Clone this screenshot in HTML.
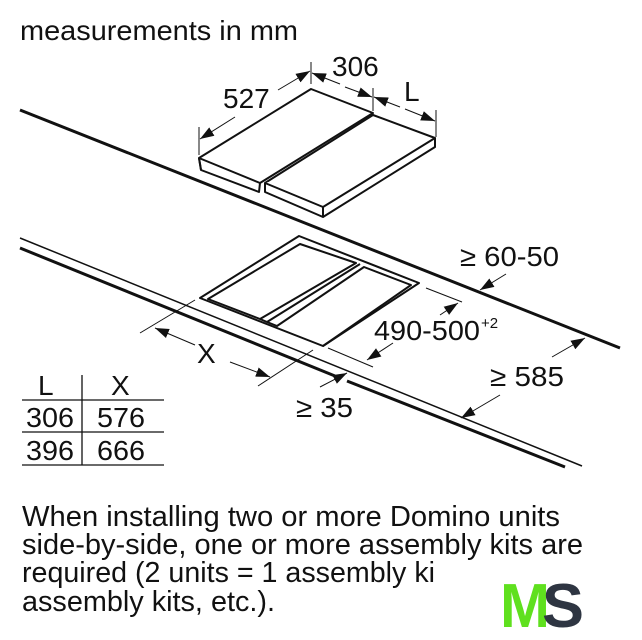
<!DOCTYPE html>
<html><head><meta charset="utf-8"><style>
html,body{margin:0;padding:0;background:#fff}
svg{display:block}
text{font-family:"Liberation Sans",Arial,sans-serif;fill:#111}
</style></head><body>
<svg width="642" height="640" viewBox="0 0 642 640" xmlns="http://www.w3.org/2000/svg">
<defs>
<marker id="b" viewBox="0 0 10 10" refX="10" refY="5" markerWidth="14" markerHeight="14" markerUnits="userSpaceOnUse" orient="auto"><path d="M0,1.5 L10,5 L0,8.5 Z" fill="#111"/></marker>
</defs>
<text x="20" y="40" font-size="28" textLength="278" lengthAdjust="spacingAndGlyphs">measurements in mm</text>

<line x1="20" y1="110" x2="620" y2="348" stroke="#111" stroke-width="3"/>
<line x1="20" y1="238" x2="582" y2="466" stroke="#111" stroke-width="1.5"/>
<line x1="20" y1="248" x2="335" y2="376" stroke="#111" stroke-width="3"/>
<line x1="347" y1="381" x2="565" y2="467" stroke="#111" stroke-width="3"/>

<g fill="#fff" stroke="#111" stroke-width="2" stroke-linejoin="round">
<path d="M199,158 L311,89 L373,113 L260,183 L259,192 L201,170 Z"/>
<path d="M199,158 L201,170 M260,183 L199,158"/>
<path d="M373,115 L435,138 L435,147 L323,217 L265,192 L265,183 Z"/>
<path d="M265,183 L323,207 L435,138 M323,207 L323,217"/>
</g>
<g stroke="#111" stroke-width="1">
<line x1="199" y1="127" x2="199" y2="155"/>
<line x1="311" y1="62" x2="311" y2="84"/>
<line x1="373" y1="88" x2="373" y2="111"/>
<line x1="436" y1="110" x2="436" y2="137"/>
<line x1="235" y1="117" x2="200" y2="139" marker-end="url(#b)"/>
<line x1="278" y1="90" x2="310" y2="71" marker-end="url(#b)"/>
<line x1="340" y1="84" x2="312" y2="73" marker-end="url(#b)"/>
<line x1="345" y1="87" x2="372" y2="97" marker-end="url(#b)"/>
<line x1="400" y1="107" x2="374" y2="97" marker-end="url(#b)"/>
<line x1="405" y1="109" x2="435" y2="121" marker-end="url(#b)"/>
</g>
<text x="223" y="108" font-size="28">527</text>
<text x="332" y="76" font-size="28">306</text>
<text x="404" y="101" font-size="28">L</text>

<g fill="none" stroke="#111" stroke-width="2" stroke-linejoin="round">
<path d="M200,298 L299,236 L419,283 L323,346 Z"/>
<path d="M208,299 L300,244 L356,263 L260,319 Z"/>
<path d="M260,319 L267,322 L360,264 M267,322 L277,326 L364,267 L411,285 L323,346"/>
</g>

<g stroke="#111" stroke-width="1">
<line x1="140" y1="333" x2="195" y2="300"/>
<line x1="258" y1="386" x2="313" y2="350"/>
<line x1="195" y1="345" x2="155" y2="328" marker-end="url(#b)"/>
<line x1="230" y1="362" x2="270" y2="377" marker-end="url(#b)"/>
<line x1="328" y1="348" x2="373" y2="367"/>
<line x1="426" y1="288" x2="462" y2="302"/>
<line x1="393" y1="343" x2="367" y2="360" marker-end="url(#b)"/>
<line x1="440" y1="315" x2="458" y2="303" marker-end="url(#b)"/>
<line x1="320" y1="387" x2="347" y2="373" marker-end="url(#b)"/>
<line x1="506" y1="274" x2="480" y2="290" marker-end="url(#b)"/>
<line x1="552" y1="357" x2="585" y2="338" marker-end="url(#b)"/>
<line x1="500" y1="395" x2="461" y2="418" marker-end="url(#b)"/>
</g>
<text x="197" y="363" font-size="28">X</text>
<text x="374" y="340" font-size="28" textLength="106" lengthAdjust="spacingAndGlyphs">490-500</text>
<text x="481" y="328" font-size="15">+2</text>
<text x="460" y="266" font-size="28" textLength="99" lengthAdjust="spacingAndGlyphs">≥ 60-50</text>
<text x="490" y="386" font-size="28" textLength="74" lengthAdjust="spacingAndGlyphs">≥ 585</text>
<text x="296" y="417" font-size="28" textLength="57" lengthAdjust="spacingAndGlyphs">≥ 35</text>

<g stroke="#111" stroke-width="1.3">
<line x1="82" y1="375" x2="82" y2="465"/>
<line x1="22" y1="400" x2="164" y2="400"/>
<line x1="22" y1="432" x2="164" y2="432"/>
<line x1="22" y1="465" x2="164" y2="465"/>
</g>
<text x="38" y="395" font-size="28">L</text>
<text x="111" y="395" font-size="28">X</text>
<text x="26" y="427" font-size="28" textLength="48" lengthAdjust="spacingAndGlyphs">306</text>
<text x="97" y="427" font-size="28" textLength="48" lengthAdjust="spacingAndGlyphs">576</text>
<text x="26" y="460" font-size="28" textLength="48" lengthAdjust="spacingAndGlyphs">396</text>
<text x="97" y="460" font-size="28" textLength="48" lengthAdjust="spacingAndGlyphs">666</text>

<text x="22" y="526" font-size="29" textLength="538" lengthAdjust="spacingAndGlyphs">When installing two or more Domino units</text>
<text x="22" y="554" font-size="29" textLength="561" lengthAdjust="spacingAndGlyphs">side-by-side, one or more assembly kits are</text>
<text x="22" y="582" font-size="29" textLength="413" lengthAdjust="spacingAndGlyphs">required (2 units = 1 assembly ki</text>
<text x="22" y="611" font-size="29" textLength="253" lengthAdjust="spacingAndGlyphs">assembly kits, etc.).</text>

<text x="500" y="627" font-size="62" font-weight="bold" style="fill:#5fe01e" textLength="50" lengthAdjust="spacingAndGlyphs">M</text>
<text x="542" y="627" font-size="62" font-weight="bold" style="fill:#2e3542" textLength="42" lengthAdjust="spacingAndGlyphs">S</text>
</svg>
</body></html>
